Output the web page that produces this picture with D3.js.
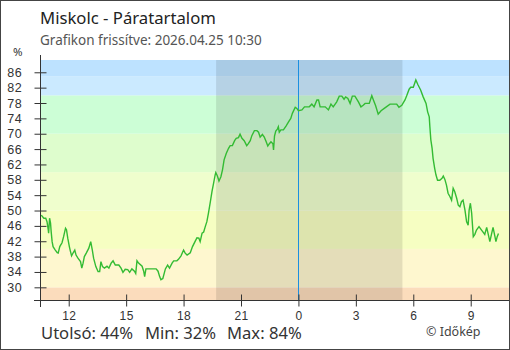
<!DOCTYPE html>
<html>
<head>
<meta charset="utf-8">
<script src="https://cdn.jsdelivr.net/npm/d3@7"></script>
<style>
  html, body { margin: 0; padding: 0; background: #fff; }
  svg { display: block; font-family: "Noto Sans", "DejaVu Sans", sans-serif; }
</style>
</head>
<body>
<svg id="chart" width="510" height="350"></svg>
<script>
// Relative humidity readings (time, %)
const times = [
  "04-24 10:34","04-24 10:42","04-24 10:48","04-24 10:52","04-24 10:56","04-24 10:57","04-24 11:00","04-24 11:03",
  "04-24 11:05","04-24 11:08","04-24 11:11","04-24 11:18","04-24 11:24","04-24 11:27","04-24 11:32","04-24 11:39",
  "04-24 11:44","04-24 11:50","04-24 11:53","04-24 11:57","04-24 12:02","04-24 12:05","04-24 12:09","04-24 12:14",
  "04-24 12:19","04-24 12:23","04-24 12:29","04-24 12:37","04-24 12:41","04-24 12:45","04-24 12:49","04-24 12:55",
  "04-24 13:03","04-24 13:09","04-24 13:14","04-24 13:18","04-24 13:25","04-24 13:32","04-24 13:37","04-24 13:41",
  "04-24 13:46","04-24 13:52","04-24 14:00","04-24 14:06","04-24 14:13","04-24 14:19","04-24 14:26","04-24 14:37",
  "04-24 14:44","04-24 14:50","04-24 14:57","04-24 15:05","04-24 15:11","04-24 15:18","04-24 15:26","04-24 15:30",
  "04-24 15:34","04-24 15:39","04-24 15:50","04-24 15:55","04-24 15:58","04-24 16:02","04-24 16:34","04-24 16:40",
  "04-24 16:45","04-24 16:49","04-24 16:55","04-24 17:03","04-24 17:10","04-24 17:16","04-24 17:24","04-24 17:29",
  "04-24 17:39","04-24 17:44","04-24 17:52","04-24 18:00","04-24 18:05","04-24 18:11","04-24 18:21","04-24 18:28",
  "04-24 18:37","04-24 18:42","04-24 18:48","04-24 18:52","04-24 18:58","04-24 19:03","04-24 19:08","04-24 19:13",
  "04-24 19:18","04-24 19:24","04-24 19:29","04-24 19:34","04-24 19:39","04-24 19:41","04-24 19:46","04-24 19:51",
  "04-24 19:57","04-24 20:02","04-24 20:07","04-24 20:14","04-24 20:21","04-24 20:26","04-24 20:33","04-24 20:40",
  "04-24 20:45","04-24 20:52","04-24 20:57","04-24 21:03","04-24 21:10","04-24 21:18","04-24 21:23","04-24 21:29",
  "04-24 21:34","04-24 21:42","04-24 21:50","04-24 21:55","04-24 22:00","04-24 22:07","04-24 22:13","04-24 22:19",
  "04-24 22:24","04-24 22:29","04-24 22:34","04-24 22:40","04-24 22:42","04-24 22:45","04-24 22:49","04-24 22:54",
  "04-24 22:57","04-24 23:00","04-24 23:05","04-24 23:13","04-24 23:21","04-24 23:29","04-24 23:36","04-24 23:41",
  "04-24 23:50","04-24 23:55","04-25 00:00","04-25 00:11","04-25 00:19","04-25 00:34","04-25 00:42","04-25 00:49",
  "04-25 00:58","04-25 01:03","04-25 01:08","04-25 01:24","04-25 01:34","04-25 01:42","04-25 01:49","04-25 02:00",
  "04-25 02:08","04-25 02:16","04-25 02:23","04-25 02:28","04-25 02:35","04-25 02:42","04-25 02:49","04-25 02:57",
  "04-25 03:08","04-25 03:16","04-25 03:23","04-25 03:29","04-25 03:42","04-25 03:50","04-25 03:55","04-25 04:02",
  "04-25 04:10","04-25 04:19","04-25 04:29","04-25 04:47","04-25 05:08","04-25 05:15","04-25 05:24","04-25 05:34",
  "04-25 05:39","04-25 05:47","04-25 05:52","04-25 06:00","04-25 06:08","04-25 06:15","04-25 06:23","04-25 06:31",
  "04-25 06:40","04-25 06:45","04-25 06:50","04-25 06:52","04-25 06:55","04-25 06:59","04-25 07:02","04-25 07:07",
  "04-25 07:11","04-25 07:16","04-25 07:23","04-25 07:30","04-25 07:34","04-25 07:39","04-25 07:44","04-25 07:49",
  "04-25 07:55","04-25 08:00","04-25 08:05","04-25 08:10","04-25 08:16","04-25 08:21","04-25 08:26","04-25 08:31",
  "04-25 08:36","04-25 08:42","04-25 08:47","04-25 08:52","04-25 08:55","04-25 08:59","04-25 09:03","04-25 09:08",
  "04-25 09:13","04-25 09:18","04-25 09:26","04-25 09:34","04-25 09:44","04-25 09:50","04-25 09:55","04-25 10:00",
  "04-25 10:05","04-25 10:10","04-25 10:16","04-25 10:19","04-25 10:23","04-25 10:27"
];
const humidity = [
  48.8,48.0,48.0,47.1,44.9,44.1,48.0,46.7,
  44.5,41.9,40.6,39.7,39.0,38.9,40.6,41.6,
  43.2,45.4,45.0,42.8,40.6,39.5,38.2,39.0,
  39.7,38.4,37.6,36.7,35.0,36.3,38.0,38.9,
  40.2,41.9,39.7,37.6,35.4,34.1,34.1,36.7,
  35.4,35.0,35.5,35.0,36.3,36.9,35.8,35.8,
  35.0,33.9,34.7,34.6,33.9,34.8,34.2,33.6,
  36.9,36.3,35.5,34.2,32.8,34.8,34.8,34.2,
  32.8,32.0,32.3,34.8,35.8,35.0,36.3,36.9,
  36.9,37.3,38.2,39.7,38.9,38.4,39.0,40.6,
  42.1,42.9,42.8,41.9,44.1,44.4,45.8,47.1,
  49.3,52.3,54.9,57.1,59.3,59.9,59.0,57.7,
  58.8,60.6,63.2,64.9,66.2,66.9,66.9,68.2,
  68.8,69.0,69.9,68.8,68.2,66.9,67.4,68.2,
  69.5,70.8,70.8,70.4,69.1,69.8,69.1,67.9,
  66.8,67.4,67.9,67.4,65.8,69.4,70.7,71.2,
  71.8,70.4,71.0,71.0,72.0,73.1,74.0,75.3,
  76.9,76.6,76.0,76.2,77.0,77.0,77.7,77.0,
  78.8,78.8,77.0,77.0,76.2,77.7,77.0,78.3,
  79.8,79.8,79.0,79.6,79.2,77.9,79.8,79.8,
  78.3,77.0,77.4,77.9,77.9,79.9,78.8,77.3,
  75.1,76.0,76.6,77.7,77.7,76.9,77.4,78.8,
  79.8,81.6,82.1,82.1,84.0,82.7,81.4,79.6,
  77.9,75.7,74.4,71.8,68.4,66.2,63.6,61.0,
  59.3,57.9,57.9,58.4,59.0,58.1,56.6,54.5,
  53.6,52.7,55.8,54.9,53.2,51.4,51.0,52.3,
  52.7,50.1,47.1,46.2,50.1,51.9,49.3,43.2,
  43.8,44.9,45.8,44.9,43.8,45.6,43.8,41.9,
  43.8,45.6,43.2,41.9,43.2,44.0
];

// Humidity bands behind the plot: edges and fill colours
const bandEdges  = [0, 30, 40, 50, 60, 70, 80, 85, 100];
const bandColors = ["#fbdcbc", "#fef7cf", "#f6fec2", "#effecd", "#defdcd", "#ccfed6", "#cbeaff", "#bde2ff"];

const yTicks = [30, 34, 38, 42, 46, 50, 54, 58, 62, 66, 70, 74, 78, 82, 86];
const xTickHours = ["04-24 12:00","04-24 15:00","04-24 18:00","04-24 21:00","04-25 00:00","04-25 03:00","04-25 06:00","04-25 09:00"];
const timeSpan = ["04-24 10:30", "04-25 11:00"];
const night = ["04-24 19:42", "04-25 05:26"];
const nowMark = "04-25 00:00";

const title = "Miskolc - Páratartalom";
const subtitle = "Grafikon frissítve: 2026.04.25 10:30";
const summaryParts = ["Utolsó: 44%", "Min: 32%", "Max: 84%"];
const credit = "© Időkép";

const parse = d3.timeParse("%Y-%m-%d %H:%M");
const T = s => parse("2026-" + s);

const data = times.map((t, i) => ({ t: T(t), v: humidity[i] }));

const svg = d3.select("#chart");
const W = 510, H = 350;
const pL = 40, pR = 509, pT = 60, pB = 300;

const x = d3.scaleTime().domain(timeSpan.map(T)).range([pL, pR]);
const y = d3.scaleLinear().domain([26.7, 89.2]).range([pB, pT]);

svg.append("clipPath").attr("id", "plotClip")
  .append("rect").attr("x", pL).attr("y", pT).attr("width", pR - pL).attr("height", pB - pT);

const plot = svg.append("g").attr("clip-path", "url(#plotClip)");

// Coloured humidity bands
plot.selectAll("rect.band")
  .data(bandColors.map((c, i) => ({ lo: bandEdges[i], hi: bandEdges[i + 1], c })))
  .join("rect")
  .attr("class", "band")
  .attr("x", pL)
  .attr("width", pR - pL)
  .attr("y", d => y(d.hi))
  .attr("height", d => y(d.lo) - y(d.hi))
  .attr("fill", d => d.c);

// Night shading
plot.append("rect")
  .attr("x", x(T(night[0])))
  .attr("width", x(T(night[1])) - x(T(night[0])))
  .attr("y", pT).attr("height", pB - pT)
  .attr("fill", "#000").attr("opacity", 0.1);

// Midnight marker
const mx = Math.round(x(T(nowMark))) + 0.5;
plot.append("line")
  .attr("x1", mx).attr("x2", mx)
  .attr("y1", pT).attr("y2", pB)
  .attr("stroke", "#1b8fe0").attr("stroke-width", 1);

// Humidity line
plot.append("path")
  .datum(data)
  .attr("fill", "none")
  .attr("stroke", "#33bb33")
  .attr("stroke-width", 1.4)
  .attr("d", d3.line().x(d => x(d.t)).y(d => y(d.v)));

// Axes
const axisColor = "#333";
const yAxis = d3.axisLeft(y).tickValues(yTicks).tickSizeOuter(0).tickFormat(d => d);
const yg = svg.append("g").attr("transform", `translate(${pL + 0.5},0)`).call(yAxis);
yg.select(".domain").remove();
yg.selectAll(".tick line").attr("x1", -6).attr("x2", 6).attr("stroke", axisColor);
yg.selectAll(".tick text").attr("x", -18.5).attr("fill", "#333")
  .style("font-size", "12.5px").style("letter-spacing", "0.4px").attr("text-anchor", "end");

svg.append("line").attr("x1", pL + 0.5).attr("x2", pL + 0.5).attr("y1", 55).attr("y2", 307)
  .attr("stroke", axisColor);

const xAxis = d3.axisBottom(x).tickValues(xTickHours.map(T)).tickFormat(d3.timeFormat("%-H")).tickSizeOuter(0);
const xg = svg.append("g").attr("transform", `translate(0,${pB + 0.5})`).call(xAxis);
xg.select(".domain").remove();
xg.selectAll(".tick line").attr("y1", -6).attr("y2", 6).attr("stroke", axisColor);
xg.selectAll(".tick text").attr("y", 10.5).attr("fill", "#333")
  .style("font-size", "12px").style("letter-spacing", "0.4px");
svg.append("line").attr("x1", 34).attr("x2", pR).attr("y1", pB + 0.5).attr("y2", pB + 0.5)
  .attr("stroke", axisColor);

// Texts
svg.append("text").attr("x", 40).attr("y", 24).attr("fill", "#222").style("font-size", "16.7px").text(title);
svg.append("text").attr("x", 40).attr("y", 45).attr("fill", "#555").style("font-size", "13.5px").text(subtitle);
svg.append("text").attr("x", 13).attr("y", 56).attr("fill", "#333").style("font-size", "11.5px").text("%");

const summaryX = [41, 145, 227];
svg.append("text").attr("y", 339).attr("fill", "#333").style("font-size", "16.6px")
  .selectAll("tspan").data(summaryParts).join("tspan")
  .attr("x", (d, i) => summaryX[i]).text(d => d);

svg.append("text").attr("x", 426).attr("y", 336).attr("fill", "#444").style("font-size", "12.5px").text(credit);

// Frame
svg.append("rect").attr("x", 0.5).attr("y", 0.5).attr("width", W - 1).attr("height", H - 1)
  .attr("fill", "none").attr("stroke", "#444");
</script>
</body>
</html>
